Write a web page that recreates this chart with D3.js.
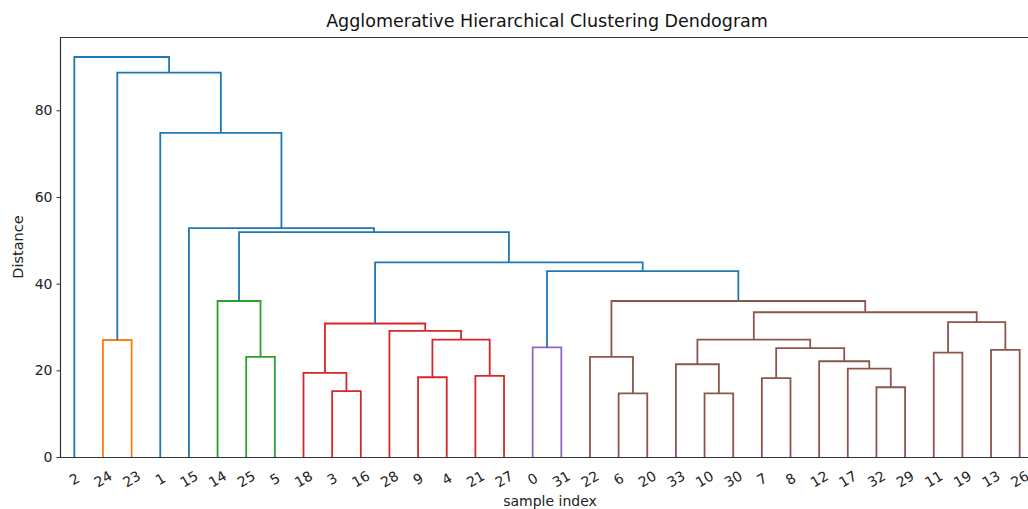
<!DOCTYPE html>
<html>
<head>
<meta charset="utf-8">
<script src="https://cdn.jsdelivr.net/npm/d3@7"></script>
<style>
  html, body { margin: 0; padding: 0; background: #fff; }
  svg { display: block; font-family: "DejaVu Sans", sans-serif; }
</style>
</head>
<body>
<svg id="chart" width="1028" height="509"></svg>
<script>
// Leaf labels in dendrogram order (left to right)
const leafLabels = ["2","24","23","1","15","14","25","5","18","3","16","28","9","4","21","27","0","31","22","6","20","33","10","30","7","8","12","17","32","29","11","19","13","26"];
// Linkage: ids < 34 are leaf positions, ids >= 34 refer to earlier links (34 + index)
const linkLeft   = [9, 8, 12, 14, 36, 11, 35, 1, 6, 5, 16, 19, 18, 22, 21, 24, 28, 27, 26, 49, 48, 30, 32, 55, 54, 46, 44, 40, 43, 4, 3, 41, 0];
const linkRight  = [10, 34, 13, 15, 37, 38, 39, 2, 7, 42, 17, 20, 45, 23, 47, 25, 29, 50, 51, 52, 53, 31, 33, 56, 57, 58, 59, 60, 61, 62, 63, 64, 65];
const linkHeight = [15.2, 19.4, 18.4, 18.7, 27.1, 29.1, 30.8, 27.0, 23.1, 36.0, 25.3, 14.7, 23.1, 14.7, 21.4, 18.2, 16.1, 20.4, 22.1, 25.1, 27.1, 24.1, 24.7, 31.1, 33.4, 36.0, 42.9, 44.9, 51.9, 52.8, 74.8, 88.7, 92.3];
const yTicks = [0, 20, 40, 60, 80];
const colorThreshold = 40;
const clusterColors = ["#ff7f0e", "#2ca02c", "#d62728", "#9467bd", "#8c564b"];
const aboveColor = "#1f77b4";

const svg = d3.select("#chart");
const n = leafLabels.length;
const maxH = d3.max(linkHeight);

const x = d3.scaleLinear().domain([0, 10 * n]).range([60, 1034]);
const y = d3.scaleLinear().domain([0, maxH * 1.05]).range([457, 37]);

// compute node positions
const nodeX = [], nodeH = [];
for (let i = 0; i < n; i++) { nodeX[i] = 5 + 10 * i; nodeH[i] = 0; }
linkLeft.forEach((l, k) => {
  const id = n + k;
  nodeX[id] = (nodeX[l] + nodeX[linkRight[k]]) / 2;
  nodeH[id] = linkHeight[k];
});

// colors (scipy-style color threshold)
const linkColor = new Array(linkLeft.length);
let ci = 0;
function colorAll(id, c) {
  if (id < n) return;
  const k = id - n;
  linkColor[k] = c;
  colorAll(linkLeft[k], c); colorAll(linkRight[k], c);
}
function assign(id) {
  if (id < n) return;
  const k = id - n;
  if (linkHeight[k] >= colorThreshold) {
    linkColor[k] = aboveColor;
    assign(linkLeft[k]); assign(linkRight[k]);
  } else {
    colorAll(id, clusterColors[ci % clusterColors.length]); ci++;
  }
}
assign(n + linkLeft.length - 1);

const g = svg.append("g");
g.append("defs").append("clipPath").attr("id", "clip")
  .append("rect").attr("x", 60).attr("y", 30).attr("width", 980).attr("height", 430);

const links = linkLeft.map((l, k) => ({ l, r: linkRight[k], h: linkHeight[k], c: linkColor[k] }));
g.append("g").attr("clip-path", "url(#clip)")
  .selectAll("path").data(links).join("path")
  .attr("fill", "none")
  .attr("stroke", d => d.c)
  .attr("stroke-width", 1.8)
  .attr("d", d => {
    const xl = x(nodeX[d.l]), xr = x(nodeX[d.r]);
    return `M${xl},${y(nodeH[d.l])}V${y(d.h)}H${xr}V${y(nodeH[d.r])}`;
  });

// spines
const frame = g.append("g").attr("stroke", "#333").attr("stroke-width", 1.2).attr("fill", "none");
frame.append("line").attr("x1", 60.5).attr("x2", 60.5).attr("y1", 37).attr("y2", 457.5);
frame.append("line").attr("x1", 60).attr("x2", 1034).attr("y1", 37.5).attr("y2", 37.5);
frame.append("line").attr("x1", 60).attr("x2", 1034).attr("y1", 457.5).attr("y2", 457.5);
frame.append("line").attr("x1", 1034.5).attr("x2", 1034.5).attr("y1", 37).attr("y2", 457.5);

// y axis
const yAxis = d3.axisLeft(y).tickValues(yTicks).tickSize(4).tickPadding(4).tickFormat(d3.format("d"));
const ya = g.append("g").attr("transform", "translate(60.5,0)").call(yAxis);
ya.select(".domain").remove();
ya.selectAll("text").attr("font-size", 14).attr("fill", "#222").attr("font-family", "DejaVu Sans");
ya.selectAll("line").attr("stroke", "#333");

// x labels
g.append("g").selectAll("text").data(leafLabels).join("text")
  .attr("transform", (d, i) => `translate(${x(nodeX[i])},${479}) rotate(-30)`)
  .attr("text-anchor", "middle")
  .attr("dominant-baseline", "central")
  .attr("font-size", 14).attr("fill", "#222")
  .text(d => d);

// axis titles
svg.append("text").attr("x", 547).attr("y", 27).attr("text-anchor", "middle")
  .attr("font-size", 17.5).attr("fill", "#111").text("Agglomerative Hierarchical Clustering Dendogram");
svg.append("text").attr("x", 550).attr("y", 506).attr("text-anchor", "middle")
  .attr("font-size", 14).attr("fill", "#222").text("sample index");
svg.append("text").attr("transform", "translate(23,247) rotate(-90)").attr("text-anchor", "middle")
  .attr("font-size", 14.5).attr("fill", "#222").text("Distance");
</script>
</body>
</html>
